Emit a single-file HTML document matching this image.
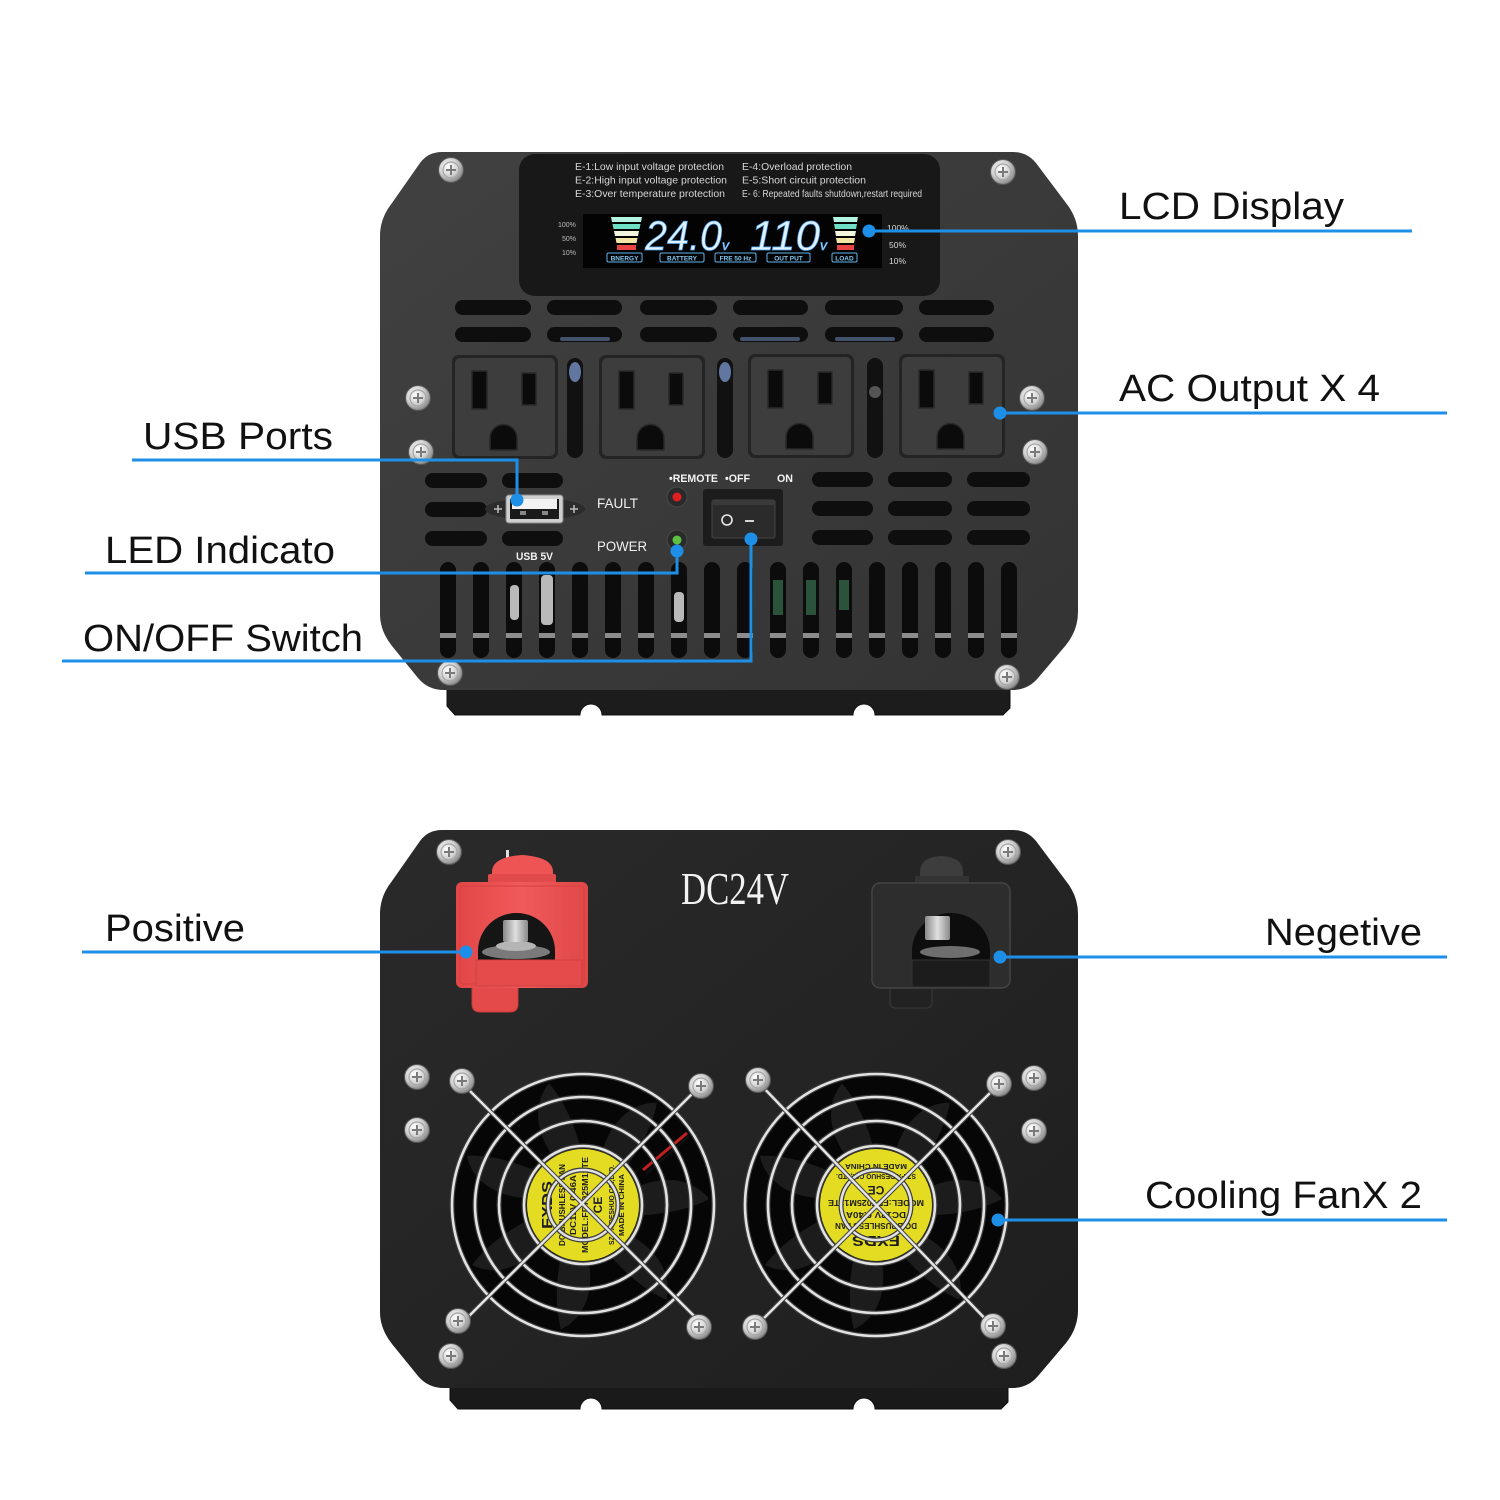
<!DOCTYPE html>
<html><head><meta charset="utf-8"><style>
html,body{margin:0;padding:0;background:#fff;}
svg{display:block;}
text{font-family:"Liberation Sans",Arial,sans-serif;}
</style></head><body>
<svg width="1500" height="1500" viewBox="0 0 1500 1500" xmlns="http://www.w3.org/2000/svg">
<defs>
<radialGradient id="sg" cx="40%" cy="38%" r="65%"><stop offset="0" stop-color="#ffffff"/><stop offset="0.55" stop-color="#d2d2d2"/><stop offset="1" stop-color="#7e7e7e"/></radialGradient>
<g id="scr"><circle r="12.5" fill="url(#sg)" stroke="#555" stroke-width="1"/><circle r="8" fill="none" stroke="#a5a5a5" stroke-width="1.2"/><path d="M-5 0H5M0-5V5" stroke="#7a7a7a" stroke-width="2"/></g>
<linearGradient id="pg1" x1="0" y1="0" x2="1" y2="1"><stop offset="0" stop-color="#414141"/><stop offset="1" stop-color="#333"/></linearGradient>
<linearGradient id="pg2" x1="0" y1="0" x2="1" y2="1"><stop offset="0" stop-color="#2a2a2a"/><stop offset="1" stop-color="#1e1e1e"/></linearGradient>
<linearGradient id="redg" x1="0" y1="0" x2="1" y2="0"><stop offset="0" stop-color="#e24646"/><stop offset="0.5" stop-color="#f05a5a"/><stop offset="1" stop-color="#e04848"/></linearGradient>
<linearGradient id="nutg" x1="0" y1="0" x2="1" y2="0"><stop offset="0" stop-color="#888"/><stop offset="0.5" stop-color="#e0e0e0"/><stop offset="1" stop-color="#8a8a8a"/></linearGradient>
<g id="outlet">
 <rect x="0" y="0" width="106" height="104" rx="7" fill="#242424"/>
 <rect x="3" y="3" width="100" height="98" rx="5" fill="#3d3d3d"/>
 <rect x="20" y="16" width="15" height="38" fill="#0b0b0b" stroke="#2a2a2a" stroke-width="1.5"/>
 <rect x="70" y="18" width="14" height="32" fill="#0b0b0b" stroke="#2a2a2a" stroke-width="1.5"/>
 <path d="M38 95V83A13.5 13.5 0 0 1 65 83V95Z" fill="#0b0b0b" stroke="#2a2a2a" stroke-width="1.5"/>
</g>
<g id="fanbody">
 <circle r="131" fill="#060606"/>
 <g fill="#1c1c1c">
  <path d="M36 -8C70 -32 108 -30 126 -6C104 6 70 12 36 10Z"/>
  <path d="M36 -8C70 -32 108 -30 126 -6C104 6 70 12 36 10Z" transform="rotate(51.4)"/>
  <path d="M36 -8C70 -32 108 -30 126 -6C104 6 70 12 36 10Z" transform="rotate(102.8)"/>
  <path d="M36 -8C70 -32 108 -30 126 -6C104 6 70 12 36 10Z" transform="rotate(154.3)"/>
  <path d="M36 -8C70 -32 108 -30 126 -6C104 6 70 12 36 10Z" transform="rotate(205.7)"/>
  <path d="M36 -8C70 -32 108 -30 126 -6C104 6 70 12 36 10Z" transform="rotate(257.1)"/>
  <path d="M36 -8C70 -32 108 -30 126 -6C104 6 70 12 36 10Z" transform="rotate(308.6)"/>
 </g>
 <circle r="56" fill="#e4dc22"/>
</g>
<g id="grill" fill="none">
 <g stroke="#3a3a3a" stroke-width="5"><circle r="131"/><circle r="108"/><circle r="84"/><circle r="59"/><circle r="35"/></g>
 <g stroke="#e2e2e2" stroke-width="2.6"><circle r="131"/><circle r="108"/><circle r="84"/><circle r="59"/><circle r="35"/></g>
</g>
</defs>

<rect width="1500" height="1500" fill="#fff"/>

<!-- ============ TOP PANEL ============ -->
<path d="M447 688H1010V708L1003 715H875A10 10 0 0 0 853 715H602A10 10 0 0 0 580 715H455L447 706Z" fill="#1c1c1c" stroke="#111" stroke-width="1"/>
<path d="M442 152H1013Q1027 152 1036 163L1066 203Q1078 218 1078 236V612Q1078 630 1066 645L1038 678Q1028 690 1012 690H444Q428 690 418 678L392 646Q380 631 380 614V236Q380 218 392 203L420 163Q428 152 442 152Z" fill="url(#pg1)"/>

<!-- LCD box -->
<rect x="519" y="154" width="421" height="142" rx="16" fill="#181818"/>
<g fill="#d6d6d6" font-size="10.5">
 <text x="575" y="170" textLength="149" lengthAdjust="spacingAndGlyphs">E-1:Low input voltage protection</text>
 <text x="575" y="183.5" textLength="152" lengthAdjust="spacingAndGlyphs">E-2:High input voltage protection</text>
 <text x="575" y="197" textLength="150" lengthAdjust="spacingAndGlyphs">E-3:Over temperature protection</text>
 <text x="742" y="170" textLength="110" lengthAdjust="spacingAndGlyphs">E-4:Overload protection</text>
 <text x="742" y="183.5" textLength="124" lengthAdjust="spacingAndGlyphs">E-5:Short circuit protection</text>
 <text x="742" y="197" textLength="180" lengthAdjust="spacingAndGlyphs">E- 6: Repeated faults shutdown,restart required</text>
</g>
<g fill="#bdbdbd" font-size="7">
 <text x="558" y="227">100%</text><text x="562" y="241">50%</text><text x="562" y="255">10%</text>
</g>
<g fill="#d8d8d8" font-size="8.5">
 <text x="887" y="231">100%</text><text x="889" y="248">50%</text><text x="889" y="264">10%</text>
</g>
<rect x="583" y="214" width="299" height="54" fill="#030303"/>
<!-- bars -->
<g>
 <path d="M611 217H642L641 222H612Z" fill="#b4f2e2"/>
 <path d="M612.5 224H640.5L639.5 229H613.5Z" fill="#6fe0c6"/>
 <path d="M614 231H639L638 236H615Z" fill="#f3f6de"/>
 <path d="M615.5 238H637.5L636.5 243H616.5Z" fill="#f2e6a6"/>
 <path d="M617 245H636V250H617Z" fill="#e84242"/>
 <path d="M833 217H858L857 222H834Z" fill="#b4f2e2"/>
 <path d="M834 224H857L856 229H835Z" fill="#6fe0c6"/>
 <path d="M835 231H856L855 236H836Z" fill="#f3f6de"/>
 <path d="M836 238H855L854 243H837Z" fill="#f2e6a6"/>
 <path d="M837 245H854V250H837Z" fill="#e84242"/>
</g>
<g fill="#e2f1ff" stroke="#4aa3f0" stroke-width="0.7" font-style="italic">
 <text x="645" y="250" font-size="42" textLength="77" lengthAdjust="spacingAndGlyphs">24.0</text>
 <text x="722" y="250" font-size="14">v</text>
 <text x="750" y="250" font-size="42" textLength="70" lengthAdjust="spacingAndGlyphs">110</text>
 <text x="820" y="250" font-size="14">v</text>
</g>
<g fill="none" stroke="#5fb3ea" stroke-width="1">
 <rect x="607" y="253" width="35" height="9" rx="1.5"/>
 <rect x="660" y="253" width="44" height="9" rx="1.5"/>
 <rect x="715" y="253" width="41" height="9" rx="1.5"/>
 <rect x="767" y="253" width="43" height="9" rx="1.5"/>
 <rect x="832" y="253" width="25" height="9" rx="1.5"/>
</g>
<g fill="#82c8f2" font-size="6.5" font-weight="bold" text-anchor="middle">
 <text x="624.5" y="260.5">BNERGY</text>
 <text x="682" y="260.5">BATTERY</text>
 <text x="735.5" y="260.5">FRE 50 Hz</text>
 <text x="788.5" y="260.5">OUT PUT</text>
 <text x="844.5" y="260.5">LOAD</text>
</g>

<!-- top vents -->
<g fill="#0e0e0e">
 <rect x="455" y="300" width="76" height="15" rx="7.5"/><rect x="547" y="300" width="75" height="15" rx="7.5"/>
 <rect x="640" y="300" width="77" height="15" rx="7.5"/><rect x="733" y="300" width="75" height="15" rx="7.5"/>
 <rect x="825" y="300" width="78" height="15" rx="7.5"/><rect x="919" y="300" width="75" height="15" rx="7.5"/>
 <rect x="455" y="327" width="76" height="15" rx="7.5"/><rect x="547" y="327" width="75" height="15" rx="7.5"/>
 <rect x="640" y="327" width="77" height="15" rx="7.5"/><rect x="733" y="327" width="75" height="15" rx="7.5"/>
 <rect x="825" y="327" width="78" height="15" rx="7.5"/><rect x="919" y="327" width="75" height="15" rx="7.5"/>
</g>
<g fill="#5a6f95" opacity="0.7">
 <rect x="560" y="337" width="50" height="4" rx="2"/><rect x="740" y="337" width="60" height="4" rx="2"/><rect x="835" y="337" width="60" height="4" rx="2"/>
</g>

<!-- vertical slots between outlets -->
<g fill="#111">
 <rect x="567" y="358" width="16" height="100" rx="8"/>
 <rect x="717" y="358" width="16" height="100" rx="8"/>
 <rect x="867" y="358" width="16" height="100" rx="8"/>
</g>
<g fill="#7d9ad0" opacity="0.75">
 <ellipse cx="575" cy="372" rx="6" ry="10"/><ellipse cx="725" cy="372" rx="6" ry="10"/>
</g>
<circle cx="875" cy="392" r="6" fill="#555"/>

<!-- outlets -->
<use href="#outlet" x="452" y="355"/>
<use href="#outlet" x="599" y="355"/>
<use href="#outlet" x="748" y="354"/>
<use href="#outlet" x="899" y="354"/>

<!-- lower vents -->
<g fill="#0e0e0e">
 <rect x="425" y="473" width="62" height="15" rx="7.5"/><rect x="425" y="502" width="62" height="15" rx="7.5"/><rect x="425" y="531" width="62" height="15" rx="7.5"/>
 <rect x="502" y="473" width="61" height="15" rx="7.5"/><rect x="502" y="531" width="61" height="15" rx="7.5"/>
 <rect x="812" y="472" width="61" height="15" rx="7.5"/><rect x="812" y="501" width="61" height="15" rx="7.5"/><rect x="812" y="530" width="61" height="15" rx="7.5"/>
 <rect x="888" y="472" width="64" height="15" rx="7.5"/><rect x="888" y="501" width="64" height="15" rx="7.5"/><rect x="888" y="530" width="64" height="15" rx="7.5"/>
 <rect x="967" y="472" width="63" height="15" rx="7.5"/><rect x="967" y="501" width="63" height="15" rx="7.5"/><rect x="967" y="530" width="63" height="15" rx="7.5"/>
</g>

<!-- USB -->
<ellipse cx="535" cy="509" rx="50" ry="11" fill="#2c2c2c"/>
<path d="M494 509h8M498 505v8M570 509h8M574 505v8" stroke="#bbb" stroke-width="1.5"/>
<rect x="506" y="495" width="57" height="28" rx="3" fill="#cfcfcf" stroke="#8a8a8a"/>
<rect x="510" y="499" width="49" height="20" fill="#1a1a1a"/>
<rect x="512" y="499" width="45" height="10" fill="#f2f2f2"/>
<rect x="520" y="511" width="6" height="4" fill="#888"/><rect x="542" y="511" width="6" height="4" fill="#888"/>
<text x="516" y="560" font-size="11" font-weight="bold" fill="#f0f0f0" textLength="37" lengthAdjust="spacingAndGlyphs">USB 5V</text>

<!-- LED & labels -->
<g fill="#f0f0f0" font-size="14">
 <text x="597" y="508" textLength="41" lengthAdjust="spacingAndGlyphs">FAULT</text>
 <text x="597" y="551" textLength="50" lengthAdjust="spacingAndGlyphs">POWER</text>
</g>
<g fill="#f4f4f4" font-size="11" font-weight="bold">
 <text x="669" y="482" textLength="49" lengthAdjust="spacingAndGlyphs">•REMOTE</text>
 <text x="725" y="482" textLength="25" lengthAdjust="spacingAndGlyphs">•OFF</text>
 <text x="777" y="482" textLength="16" lengthAdjust="spacingAndGlyphs">ON</text>
</g>
<circle cx="677" cy="497" r="10" fill="#2a2a2a" stroke="#4a4a4a"/><circle cx="677" cy="497" r="4.5" fill="#e02020"/>
<circle cx="677" cy="540" r="10" fill="#2a2a2a" stroke="#4a4a4a"/><circle cx="677" cy="540" r="4.5" fill="#5cc040"/>

<!-- switch -->
<rect x="703" y="489" width="80" height="57" rx="3" fill="#1c1c1c"/>
<rect x="712" y="500" width="63" height="38" rx="2" fill="#2b2b2b" stroke="#444"/>
<rect x="712" y="500" width="63" height="5" fill="#3a3a3a"/>
<circle cx="727" cy="520" r="5" fill="none" stroke="#e8e8e8" stroke-width="1.6"/>
<path d="M745 521h9" stroke="#e8e8e8" stroke-width="1.8"/>

<!-- bottom vertical slots -->
<g fill="#0c0c0c">
 <rect x="440" y="562" width="16" height="96" rx="8"/><rect x="473" y="562" width="16" height="96" rx="8"/>
 <rect x="506" y="562" width="16" height="96" rx="8"/><rect x="539" y="562" width="16" height="96" rx="8"/>
 <rect x="572" y="562" width="16" height="96" rx="8"/><rect x="605" y="562" width="16" height="96" rx="8"/>
 <rect x="638" y="562" width="16" height="96" rx="8"/><rect x="671" y="562" width="16" height="96" rx="8"/>
 <rect x="704" y="562" width="16" height="96" rx="8"/><rect x="737" y="562" width="16" height="96" rx="8"/>
 <rect x="770" y="562" width="16" height="96" rx="8"/><rect x="803" y="562" width="16" height="96" rx="8"/>
 <rect x="836" y="562" width="16" height="96" rx="8"/><rect x="869" y="562" width="16" height="96" rx="8"/>
 <rect x="902" y="562" width="16" height="96" rx="8"/><rect x="935" y="562" width="16" height="96" rx="8"/>
 <rect x="968" y="562" width="16" height="96" rx="8"/><rect x="1001" y="562" width="16" height="96" rx="8"/>
</g>
<g fill="#8c8c8c">
 <rect x="440" y="633" width="16" height="5"/><rect x="473" y="633" width="16" height="5"/><rect x="506" y="633" width="16" height="5"/>
 <rect x="539" y="633" width="16" height="5"/><rect x="572" y="633" width="16" height="5"/><rect x="605" y="633" width="16" height="5"/>
 <rect x="638" y="633" width="16" height="5"/><rect x="671" y="633" width="16" height="5"/><rect x="704" y="633" width="16" height="5"/>
 <rect x="737" y="633" width="16" height="5"/><rect x="770" y="633" width="16" height="5"/><rect x="803" y="633" width="16" height="5"/>
 <rect x="836" y="633" width="16" height="5"/><rect x="869" y="633" width="16" height="5"/><rect x="902" y="633" width="16" height="5"/>
 <rect x="935" y="633" width="16" height="5"/><rect x="968" y="633" width="16" height="5"/><rect x="1001" y="633" width="16" height="5"/>
</g>
<g fill="#d8d8d8" opacity="0.85">
 <rect x="510" y="585" width="9" height="35" rx="4"/><rect x="541" y="575" width="12" height="50" rx="4"/>
 <rect x="674" y="592" width="10" height="30" rx="4"/>
</g>
<g fill="#2f5a40" opacity="0.9">
 <rect x="773" y="580" width="10" height="35"/><rect x="806" y="580" width="10" height="35"/><rect x="839" y="580" width="10" height="30"/>
</g>

<!-- top panel screws -->
<use href="#scr" x="451" y="170"/><use href="#scr" x="1003" y="172"/>
<use href="#scr" x="418" y="398"/><use href="#scr" x="1032" y="398"/>
<use href="#scr" x="421" y="452"/><use href="#scr" x="1035" y="452"/>
<use href="#scr" x="450" y="673"/><use href="#scr" x="1007" y="677"/>

<!-- ============ BOTTOM PANEL ============ -->
<path d="M450 1386H1008V1402L1001 1409H875A10 10 0 0 0 853 1409H602A10 10 0 0 0 580 1409H458L450 1400Z" fill="#1a1a1a" stroke="#0e0e0e"/>
<path d="M442 830H1013Q1027 830 1036 841L1066 881Q1078 896 1078 914V1310Q1078 1328 1066 1343L1038 1376Q1028 1388 1012 1388H444Q428 1388 418 1376L392 1344Q380 1329 380 1312V914Q380 896 392 881L420 841Q428 830 442 830Z" fill="url(#pg2)"/>

<text x="681" y="904" style="font-family:'Liberation Serif','Times New Roman',serif" font-size="46" fill="#f2f2f2" textLength="108" lengthAdjust="spacingAndGlyphs">DC24V</text>

<!-- red terminal -->
<rect x="506" y="850" width="3" height="20" fill="#e0e0e0"/>
<path d="M492 884V872Q492 857 522 855Q553 857 553 872V884Z" fill="#ee5454"/>
<rect x="488" y="874" width="68" height="10" rx="2" fill="#e04a4a"/>
<path d="M472 985H518V1004Q518 1012 510 1012H480Q472 1012 472 1004Z" fill="#e44a4a" stroke="#c83a3a"/>
<rect x="456" y="882" width="132" height="106" rx="6" fill="url(#redg)"/>
<rect x="460" y="886" width="124" height="98" rx="4" fill="none" stroke="#d84040" stroke-width="1"/>
<path d="M478 962V951A38.5 38 0 0 1 555 951V962Z" fill="#151515"/>
<ellipse cx="516" cy="952" rx="34" ry="7" fill="#7a7a7a"/>
<ellipse cx="516" cy="946" rx="20" ry="5" fill="#b5b5b5"/>
<rect x="503" y="920" width="25" height="22" rx="2" fill="url(#nutg)"/>
<rect x="476" y="960" width="106" height="26" fill="#e44c4c" stroke="#d04040"/>

<!-- black terminal -->
<path d="M920 884V872Q920 857 941 856Q963 857 963 872V884Z" fill="#3d3d3d"/>
<rect x="915" y="876" width="54" height="8" fill="#333"/>
<path d="M890 985H932V1002Q932 1008 926 1008H896Q890 1008 890 1002Z" fill="#222" stroke="#3a3a3a"/>
<rect x="872" y="883" width="138" height="105" rx="8" fill="#2d2d2d" stroke="#444" stroke-width="1.5"/>
<path d="M912 962V951A39 38 0 0 1 990 951V962Z" fill="#0d0d0d"/>
<ellipse cx="950" cy="952" rx="30" ry="6" fill="#6e6e6e"/>
<rect x="925" y="916" width="25" height="24" rx="2" fill="url(#nutg)"/>
<rect x="912" y="960" width="78" height="27" fill="#1c1c1c" stroke="#333"/>

<!-- fans -->
<use href="#fanbody" x="583" y="1205"/>
<use href="#fanbody" x="876" y="1205"/>
<path d="M687 1133L643 1170" stroke="#c02020" stroke-width="3"/>
<path d="M689 1136L646 1174" stroke="#111" stroke-width="2"/>

<g transform="translate(583 1205) rotate(-90)" fill="#1c1c1c" font-weight="bold" text-anchor="middle">
 <text y="-31" font-size="15" textLength="48" lengthAdjust="spacingAndGlyphs">FXDS</text>
 <text y="-18" font-size="8" textLength="82" lengthAdjust="spacingAndGlyphs">DC BRUSHLESS FAN</text>
 <text y="-7" font-size="8" textLength="60" lengthAdjust="spacingAndGlyphs">DC12V 0.46A</text>
 <text y="5" font-size="8" textLength="96" lengthAdjust="spacingAndGlyphs">MODEL:FD7025M12TE</text>
 <text y="19" font-size="12">CE</text>
 <text y="31" font-size="7.5" textLength="80" lengthAdjust="spacingAndGlyphs">SZ FXIDESHUO CO.,LTD.</text>
 <text y="41" font-size="7.5" textLength="62" lengthAdjust="spacingAndGlyphs">MADE IN CHINA</text>
</g>
<g transform="translate(876 1205) rotate(180)" fill="#1c1c1c" font-weight="bold" text-anchor="middle">
 <text y="-31" font-size="15" textLength="48" lengthAdjust="spacingAndGlyphs">FXDS</text>
 <text y="-18" font-size="8" textLength="82" lengthAdjust="spacingAndGlyphs">DC BRUSHLESS FAN</text>
 <text y="-7" font-size="8" textLength="60" lengthAdjust="spacingAndGlyphs">DC12V 0.40A</text>
 <text y="5" font-size="8" textLength="96" lengthAdjust="spacingAndGlyphs">MODEL:FD7025M12TE</text>
 <text y="19" font-size="12">CE</text>
 <text y="31" font-size="7.5" textLength="80" lengthAdjust="spacingAndGlyphs">SZ FXIDESHUO CO.,LTD.</text>
 <text y="41" font-size="7.5" textLength="62" lengthAdjust="spacingAndGlyphs">MADE IN CHINA</text>
</g>

<use href="#grill" x="583" y="1205"/>
<use href="#grill" x="876" y="1205"/>
<g stroke="#444" stroke-width="4.5" fill="none">
 <path d="M462 1083L703 1325M703 1083L460 1325"/>
 <path d="M758 1082L993 1327M998 1085L755 1327"/>
</g>
<g stroke="#e6e6e6" stroke-width="2.4" fill="none">
 <path d="M462 1083L703 1325M703 1083L460 1325"/>
 <path d="M758 1082L993 1327M998 1085L755 1327"/>
</g>

<!-- bottom panel screws -->
<use href="#scr" x="449" y="852"/><use href="#scr" x="1008" y="852"/>
<use href="#scr" x="417" y="1077"/><use href="#scr" x="1034" y="1078"/>
<use href="#scr" x="417" y="1130"/><use href="#scr" x="1034" y="1131"/>
<use href="#scr" x="451" y="1356"/><use href="#scr" x="1004" y="1356"/>
<use href="#scr" x="462" y="1081"/><use href="#scr" x="701" y="1086"/>
<use href="#scr" x="458" y="1321"/><use href="#scr" x="699" y="1327"/>
<use href="#scr" x="758" y="1080"/><use href="#scr" x="999" y="1084"/>
<use href="#scr" x="755" y="1327"/><use href="#scr" x="993" y="1326"/>

<!-- ============ CALLOUTS ============ -->
<g stroke="#1d8fe6" stroke-width="3" fill="none">
 <polyline points="869,231 1412,231"/>
 <polyline points="1000,413 1447,413"/>
 <polyline points="132,460 517,460 517,500"/>
 <polyline points="85,573 677,573 677,551"/>
 <polyline points="62,661 751,661 751,539"/>
 <polyline points="82,952 466,952"/>
 <polyline points="1000,957 1447,957"/>
 <polyline points="998,1220 1447,1220"/>
</g>
<g fill="#1d8fe6">
 <circle cx="869" cy="231" r="6.5"/><circle cx="1000" cy="413" r="6.5"/>
 <circle cx="517" cy="500" r="6.5"/><circle cx="677" cy="551" r="6.5"/>
 <circle cx="751" cy="539" r="6.5"/><circle cx="466" cy="952" r="6.5"/>
 <circle cx="1000" cy="957" r="6.5"/><circle cx="998" cy="1220" r="6.5"/>
</g>
<g fill="#111" font-size="38">
 <text x="1119" y="219" textLength="225" lengthAdjust="spacingAndGlyphs">LCD Display</text>
 <text x="1119" y="401" textLength="261" lengthAdjust="spacingAndGlyphs">AC Output X 4</text>
 <text x="143" y="449" textLength="190" lengthAdjust="spacingAndGlyphs">USB Ports</text>
 <text x="105" y="563" textLength="230" lengthAdjust="spacingAndGlyphs">LED Indicato</text>
 <text x="83" y="651" textLength="280" lengthAdjust="spacingAndGlyphs">ON/OFF Switch</text>
 <text x="105" y="941" textLength="140" lengthAdjust="spacingAndGlyphs">Positive</text>
 <text x="1265" y="945" textLength="157" lengthAdjust="spacingAndGlyphs">Negetive</text>
 <text x="1145" y="1208" textLength="277" lengthAdjust="spacingAndGlyphs">Cooling FanX 2</text>
</g>
</svg>
</body></html>
